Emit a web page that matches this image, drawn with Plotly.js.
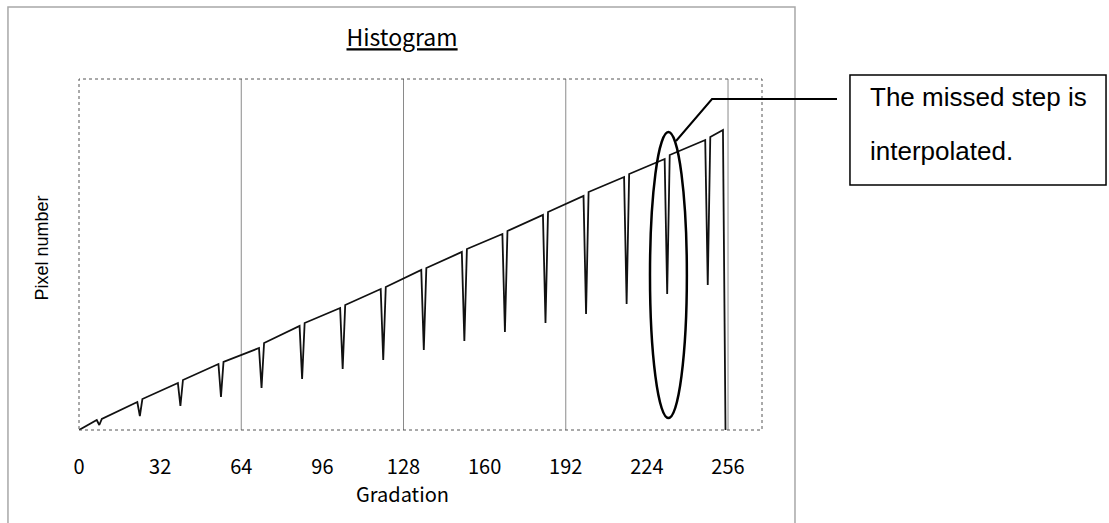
<!DOCTYPE html>
<html>
<head>
<meta charset="utf-8">
<script src="https://cdn.plot.ly/plotly-3.0.1.min.js"></script>
<style>
  html, body { margin: 0; padding: 0; background: #ffffff; }
  #chart { width: 1109px; height: 523px; }
</style>
</head>
<body>
<div id="chart"></div>
<script>
// Gradation (x) and pixel count (arbitrary units)
const gradation = [0, 7, 8, 9, 23, 24, 25, 39, 40, 41, 55, 56, 57, 71, 72, 73, 87, 88, 89,
  103, 104, 105, 119, 120, 121, 135, 136, 137, 151, 152, 153, 167, 168, 169, 183, 184, 185,
  199, 200, 201, 215, 216, 217, 231, 232, 233, 247, 248, 249, 254, 255];
const pixelNumber = [0, 10, 5, 11, 28, 14, 31, 47, 24, 50, 66, 33, 68, 82, 42, 87, 104, 51, 107,
  122, 61, 125, 141, 70, 143, 160, 80, 162, 178, 89, 181, 196, 98, 199, 215, 107, 218,
  234, 116, 238, 253, 126, 256, 271, 136, 275, 290, 145, 293, 300, 0];

const tickValues = [0, 32, 64, 96, 128, 160, 192, 224, 256];
const tickLabels = ['0', '32', '64', '96', '128', '160', '192', '224', '256'];
const gridValues = [64, 128, 192, 256];

const chartTitle = 'Histogram';
const xTitle = 'Gradation';
const yTitle = 'Pixel number';
const noteLines = ['The missed step is', 'interpolated.'];

const trace = {
  x: gradation,
  y: pixelNumber,
  type: 'scatter',
  mode: 'lines',
  line: { color: '#111111', width: 1.8 },
  hoverinfo: 'x+y',
  showlegend: false
};

const gothic = '"Noto Sans CJK JP", "DejaVu Sans", sans-serif';
const arial = '"Liberation Sans", Arial, sans-serif';

const shapes = [];
gridValues.forEach(v => shapes.push({
  type: 'line', xref: 'x', yref: 'paper', x0: v, x1: v, y0: 0, y1: 1,
  line: { color: '#8a8a8a', width: 1 }, layer: 'below'
}));
// plot-area dotted frame
shapes.push({ type: 'rect', xref: 'paper', yref: 'paper', x0: 0, x1: 1, y0: 0, y1: 1,
  line: { color: '#555555', width: 1, dash: 'dot' } });
// outer chart frame
shapes.push({ type: 'rect', xref: 'paper', yref: 'paper', x0: -0.104, x1: 1.0483, y0: -0.32, y1: 1.2051,
  line: { color: '#a8a8a8', width: 1.5 } });
// ellipse highlighting the interpolated step
shapes.push({ type: 'circle', xref: 'paper', yref: 'paper', x0: 0.836, x1: 0.890, y0: 0.034, y1: 0.849,
  line: { color: '#000000', width: 2.5 } });
// leader line
shapes.push({ type: 'path', xref: 'paper', yref: 'paper',
  path: 'M 0.8741 0.8234 L 0.9268 0.9430 L 1.1098 0.9430',
  line: { color: '#000000', width: 2 } });
// callout box
shapes.push({ type: 'rect', xref: 'paper', yref: 'paper', x0: 1.1288, x1: 1.5037, y0: 0.698, y1: 1.0114,
  line: { color: '#000000', width: 1.5 } });

const annotations = [
  { text: noteLines[0], xref: 'paper', yref: 'paper', x: 1.1552, y: 0.9487, xanchor: 'left', yanchor: 'middle',
    showarrow: false, font: { family: arial, size: 26, color: '#000' } },
  { text: noteLines[1], xref: 'paper', yref: 'paper', x: 1.1552, y: 0.7949, xanchor: 'left', yanchor: 'middle',
    showarrow: false, font: { family: arial, size: 26, color: '#000' } },
  { text: yTitle, xref: 'paper', yref: 'paper', x: -0.0542, y: 0.52, xanchor: 'center', yanchor: 'middle',
    textangle: -90, showarrow: false, font: { family: arial, size: 18, color: '#000' } },
  { text: xTitle, xref: 'paper', yref: 'paper', x: 0.473, y: -0.1795, xanchor: 'center', yanchor: 'middle',
    showarrow: false, font: { family: gothic, size: 20, color: '#000' } }
];

const layout = {
  width: 1109,
  height: 523,
  margin: { l: 79, r: 347, t: 79, b: 93 },
  paper_bgcolor: '#ffffff',
  plot_bgcolor: '#ffffff',
  title: {
    text: '<u>' + chartTitle + '</u>',
    xref: 'paper', x: 0.473, xanchor: 'center',
    yref: 'container', y: 0.927, yanchor: 'middle',
    font: { family: gothic, size: 23, color: '#000' }
  },
  xaxis: {
    range: [0, 269.4],
    tickmode: 'array',
    tickvals: tickValues,
    ticktext: tickLabels,
    ticks: 'outside',
    ticklen: 19,
    tickcolor: 'rgba(0,0,0,0)',
    showgrid: false,
    zeroline: false,
    showline: false,
    tickfont: { family: gothic, size: 20, color: '#000' },
    fixedrange: true
  },
  yaxis: {
    range: [0, 351],
    showticklabels: false,
    ticks: '',
    showgrid: false,
    zeroline: false,
    showline: false,
    fixedrange: true
  },
  shapes: shapes,
  annotations: annotations,
  showlegend: false
};

Plotly.newPlot('chart', [trace], layout, { displayModeBar: false, staticPlot: true });
</script>
</body>
</html>
